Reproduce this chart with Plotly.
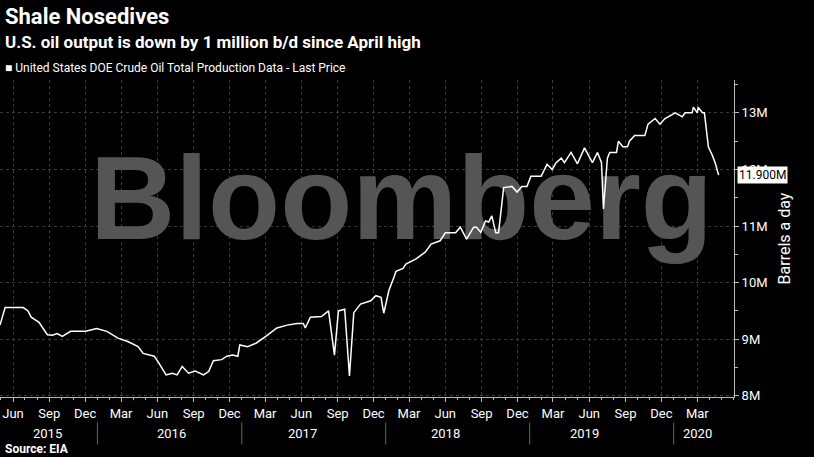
import plotly.graph_objects as go

# Weekly US crude production (millions of barrels a day)
dates = [
    "2015-04-29", "2015-05-12", "2015-06-27", "2015-07-09", "2015-07-17", "2015-08-06",
    "2015-08-27", "2015-09-09", "2015-09-21", "2015-10-04", "2015-10-25", "2015-11-14",
    "2015-12-02", "2015-12-30", "2016-01-25", "2016-02-22", "2016-03-18", "2016-04-13",
    "2016-04-26", "2016-05-24", "2016-06-05", "2016-06-23", "2016-07-09", "2016-07-21",
    "2016-08-03", "2016-08-19", "2016-09-05", "2016-09-26", "2016-10-09", "2016-10-21",
    "2016-11-11", "2016-11-24", "2016-12-09", "2016-12-22", "2016-12-27", "2017-01-16",
    "2017-02-06", "2017-03-03", "2017-03-31", "2017-04-26", "2017-05-21", "2017-06-06",
    "2017-06-11", "2017-06-24", "2017-07-22", "2017-08-09", "2017-08-24", "2017-09-03",
    "2017-09-19", "2017-10-01", "2017-10-12", "2017-10-29", "2017-11-24", "2017-12-07",
    "2017-12-20", "2017-12-27", "2018-01-09", "2018-01-22", "2018-01-27", "2018-02-14",
    "2018-02-21", "2018-03-19", "2018-04-11", "2018-04-26", "2018-05-19", "2018-06-01",
    "2018-06-27", "2018-07-09", "2018-07-25", "2018-08-12", "2018-08-19", "2018-08-30",
    "2018-09-11", "2018-09-19", "2018-09-27", "2018-10-07", "2018-10-14", "2018-10-27",
    "2018-11-17", "2018-11-30", "2018-12-12", "2018-12-25", "2019-01-04", "2019-01-30",
    "2019-02-14", "2019-02-27", "2019-03-09", "2019-03-22", "2019-03-30", "2019-04-16",
    "2019-05-02", "2019-05-20", "2019-06-09", "2019-06-22", "2019-07-02", "2019-07-07",
    "2019-07-17", "2019-07-23", "2019-08-09", "2019-08-14", "2019-08-25", "2019-09-06",
    "2019-09-11", "2019-09-24", "2019-10-20", "2019-10-28", "2019-11-15", "2019-11-27",
    "2019-12-10", "2020-01-05", "2020-01-23", "2020-01-30", "2020-02-17", "2020-02-20",
    "2020-03-01", "2020-03-03", "2020-03-14", "2020-03-19", "2020-03-29", "2020-04-08",
    "2020-04-16", "2020-04-24",
]
output = [
    9.25, 9.56, 9.56, 9.50, 9.39, 9.30,
    9.08, 9.07, 9.10, 9.05, 9.14, 9.14,
    9.14, 9.19, 9.14, 9.02, 8.96, 8.87,
    8.75, 8.70, 8.58, 8.37, 8.40, 8.37,
    8.52, 8.40, 8.44, 8.37, 8.43, 8.62,
    8.64, 8.70, 8.72, 8.70, 8.90, 8.87,
    8.93, 9.05, 9.20, 9.25, 9.28, 9.28,
    9.20, 9.39, 9.40, 9.50, 8.72, 9.50,
    9.53, 8.35, 9.47, 9.62, 9.68, 9.77,
    9.74, 9.46, 9.86, 10.10, 10.20, 10.25,
    10.33, 10.42, 10.54, 10.68, 10.74, 10.88,
    10.88, 10.98, 10.77, 10.98, 10.98, 10.89,
    11.09, 11.07, 11.18, 10.88, 10.88, 11.68,
    11.70, 11.60, 11.70, 11.70, 11.88, 11.88,
    12.09, 12.00, 12.12, 12.20, 12.12, 12.30,
    12.10, 12.38, 12.12, 12.30, 12.12, 11.30,
    12.20, 12.30, 12.30, 12.50, 12.40, 12.40,
    12.50, 12.60, 12.60, 12.80, 12.90, 12.80,
    12.90, 13.00, 12.93, 13.00, 13.00, 13.10,
    13.00, 13.10, 13.00, 13.00, 12.40, 12.25,
    12.10, 11.90,
]

month_ticks = [
    "2015-06-01", "2015-09-01", "2015-12-01", "2016-03-01", "2016-06-01", "2016-09-01",
    "2016-12-01", "2017-03-01", "2017-06-01", "2017-09-01", "2017-12-01", "2018-03-01",
    "2018-06-01", "2018-09-01", "2018-12-01", "2019-03-01", "2019-06-01", "2019-09-01",
    "2019-12-01", "2020-03-01",
]
month_labels = ["Jun", "Sep", "Dec", "Mar"] * 5
year_labels = ["2015", "2016", "2017", "2018", "2019", "2020"]
year_centers = ["2015-08-27", "2016-07-06", "2017-06-03", "2018-06-01", "2019-05-20", "2020-03-01"]
year_breaks = ["2016-01-01", "2017-01-01", "2018-01-01", "2019-01-01", "2020-01-01"]
y_ticks = [8, 9, 10, 11, 12, 13]
y_labels = ["8M", "9M", "10M", "11M", "12M", "13M"]

FONT = "Roboto"
fig = go.Figure()

# watermark drawn first so the line sits above it
fig.add_trace(go.Scatter(
    x=["2018-02-10"], y=[11.3], mode="text", text=["<b>Bloomberg</b>"],
    textfont=dict(family="Liberation Sans", size=118, color="#555555"),
    hoverinfo="skip", showlegend=False,
))
fig.add_trace(go.Scatter(
    x=dates, y=output, mode="lines", line=dict(color="white", width=1.5),
    showlegend=False,
))

grid = dict(showgrid=True, gridcolor="#3a3a3a", griddash="dot", gridwidth=1)
fig.update_layout(
    width=814, height=457,
    paper_bgcolor="black", plot_bgcolor="black",
    margin=dict(l=0, r=80, t=80, b=60),
    font=dict(family=FONT, color="white", size=13),
    xaxis=dict(
        type="date", range=["2015-04-29", "2020-06-02"],
        tickvals=month_ticks, ticktext=month_labels,
        ticks="outside", ticklen=4, tickcolor="#bbbbbb",
        minor=dict(dtick="M1", ticks="outside", ticklen=2, tickcolor="#bbbbbb", showgrid=False),
        showline=True, linecolor="#bbbbbb", zeroline=False,
        tickfont=dict(size=13, color="white"), **grid,
    ),
    yaxis=dict(
        side="right", range=[7.98, 13.58],
        tickvals=y_ticks, ticktext=y_labels,
        ticks="outside", ticklen=4, tickcolor="#bbbbbb",
        minor=dict(dtick=0.5, ticks="outside", ticklen=3, tickcolor="#bbbbbb", showgrid=False),
        showline=True, linecolor="#bbbbbb", zeroline=False,
        tickfont=dict(size=13, color="white"), **grid,
        title=dict(text="Barrels a day", font=dict(size=16, color="white"), standoff=12),
    ),
)

for label, center in zip(year_labels, year_centers):
    fig.add_annotation(x=center, y=-0.115, xref="x", yref="paper", text=label,
                       showarrow=False, yanchor="middle", font=dict(size=13, color="white"))
for b in year_breaks:
    fig.add_shape(type="line", x0=b, x1=b, y0=-0.08, y1=-0.15, xref="x", yref="paper",
                  line=dict(color="#666666", width=1))

fig.add_annotation(x=1.004, y=output[-1], xref="paper", yref="y", text="11.900M",
                   showarrow=False, xanchor="left", bgcolor="white",
                   font=dict(size=12, color="black"), borderpad=1)


# header texts placed by pixel row (plot area spans rows 80..397)
def py(pixel_from_top):
    return (397 - pixel_from_top) / 317


fig.add_annotation(x=0.004, y=py(17), xref="paper", yref="paper", xanchor="left", yanchor="middle",
                   text="<b>Shale Nosedives</b>", showarrow=False, font=dict(size=22, color="white"))
fig.add_annotation(x=0.004, y=py(42), xref="paper", yref="paper", xanchor="left", yanchor="middle",
                   text="<b>U.S. oil output is down by 1 million b/d since April high</b>",
                   showarrow=False, font=dict(size=17, color="white"))
fig.add_annotation(x=0.004, y=py(68), xref="paper", yref="paper", xanchor="left", yanchor="middle",
                   text="■ United States DOE Crude Oil Total Production Data - Last Price",
                   showarrow=False, font=dict(size=12, color="white"))
fig.add_annotation(x=0.004, y=py(449), xref="paper", yref="paper", xanchor="left", yanchor="middle",
                   text="<b>Source: EIA</b>", showarrow=False, font=dict(size=12, color="white"))

fig.write_html("out.html", config={"displayModeBar": False},
               post_script="document.body.style.margin='0';document.body.style.background='black';")
